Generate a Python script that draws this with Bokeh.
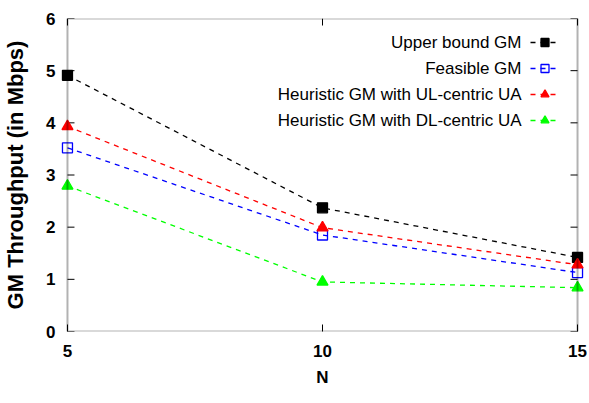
import math
from bokeh.plotting import figure
from bokeh.models import (Range1d, FixedTicker, Legend, LegendItem, Label, BoxAnnotation)
from bokeh.embed import file_html
from bokeh.resources import INLINE

# ---- data ----
N = [5, 10, 15]
upper_bound = [4.91, 2.37, 1.42]
feasible = [3.52, 1.85, 1.13]
heur_ul = [3.93, 1.99, 1.28]
heur_dl = [2.79, 0.95, 0.84]

x_ticks = [5, 10, 15]
y_ticks = [0, 1, 2, 3, 4, 5, 6]
x_min, x_max = 5, 15
y_min, y_max = 0, 6

series_names = ["Upper bound GM", "Feasible GM",
                "Heuristic GM with UL-centric UA", "Heuristic GM with DL-centric UA"]
series_values = [upper_bound, feasible, heur_ul, heur_dl]
series_colors = ["#000000", "#0000ff", "#ff0000", "#00ff00"]
series_markers = ["square", "square", "triangle", "triangle"]
series_fill = [True, False, True, True]

FONT = "Liberation Sans"

# small padding so that edge markers are not clipped by the frame
pad = 7 / 51.2
p = figure(width=587, height=400, output_backend="svg", toolbar_location=None,
           x_range=Range1d(x_min - pad, x_max + pad), y_range=Range1d(y_min, y_max),
           min_border_left=58, min_border_right=3, min_border_top=18, min_border_bottom=69)
p.xgrid.visible = False
p.ygrid.visible = False
p.outline_line_color = None

# plot box
p.add_layout(BoxAnnotation(left=x_min, right=x_max, bottom=y_min, top=y_max,
                           fill_alpha=0, line_color="black", line_width=2))

for ax in (p.xaxis[0], p.yaxis[0]):
    ax.axis_line_color = None
    ax.major_tick_out = 0
    ax.minor_tick_line_color = None
    ax.major_label_text_font = FONT
    ax.major_label_text_font_style = "bold"
    ax.major_label_text_font_size = "17px"
    ax.major_label_text_color = "black"
    ax.axis_label_text_font_style = "bold"
    ax.axis_label_text_color = "black"
    ax.axis_label_text_font = FONT

p.xaxis.ticker = FixedTicker(ticks=x_ticks)
p.xaxis.major_tick_in = 7
p.xaxis.major_tick_line_width = 1
p.yaxis.ticker = FixedTicker(ticks=y_ticks)
p.yaxis.major_tick_in = 0
p.yaxis.major_tick_line_color = None
p.xaxis.axis_label = "N"
p.xaxis.axis_label_text_font_size = "17px"
p.xaxis.major_label_standoff = 13
p.xaxis.axis_label_standoff = 8
p.yaxis.axis_label = "GM Throughput (in Mbps)"
p.yaxis.axis_label_text_font_size = "22px"
p.yaxis.major_label_standoff = 5
p.yaxis.axis_label_standoff = 15

# inward ticks on the box: left, right, top
p.ray(x=[x_min] * len(y_ticks), y=y_ticks, length=7, length_units="screen",
      angle=0, line_color="black", line_width=1)
p.ray(x=[x_max] * len(y_ticks), y=y_ticks, length=7, length_units="screen",
      angle=math.pi, line_color="black", line_width=1)
p.ray(x=x_ticks, y=[y_max] * len(x_ticks), length=7, length_units="screen",
      angle=-math.pi / 2, line_color="black", line_width=1)

items = []
for name, vals, col, mk, filled in zip(series_names, series_values, series_colors,
                                       series_markers, series_fill):
    lr = p.line(N, vals, line_color=col, line_width=1.3, line_dash="5 5")
    sr = p.scatter(N, vals, marker=mk, size=10 if mk == "square" else 11,
                   line_color=col, line_width=1.3,
                   fill_color=col if filled else None)
    items.append(LegendItem(label="", renderers=[lr, sr]))

legend = Legend(items=items, location=(470, 201), orientation="vertical",
                glyph_width=29, glyph_height=20, label_height=20, label_width=0,
                label_standoff=0, spacing=6, padding=0, margin=0,
                border_line_color=None, background_fill_alpha=0,
                label_text_font_size="1px")
p.add_layout(legend, "center")

row_y = [289, 263, 237, 211]
for name, yy in zip(series_names, row_y):
    p.add_layout(Label(x=461, y=yy, x_units="screen", y_units="screen", text=name,
                       text_align="right", text_baseline="middle",
                       text_font=FONT, text_font_size="17px", text_color="black"))

open("out.html", "w").write(file_html(p, INLINE))
